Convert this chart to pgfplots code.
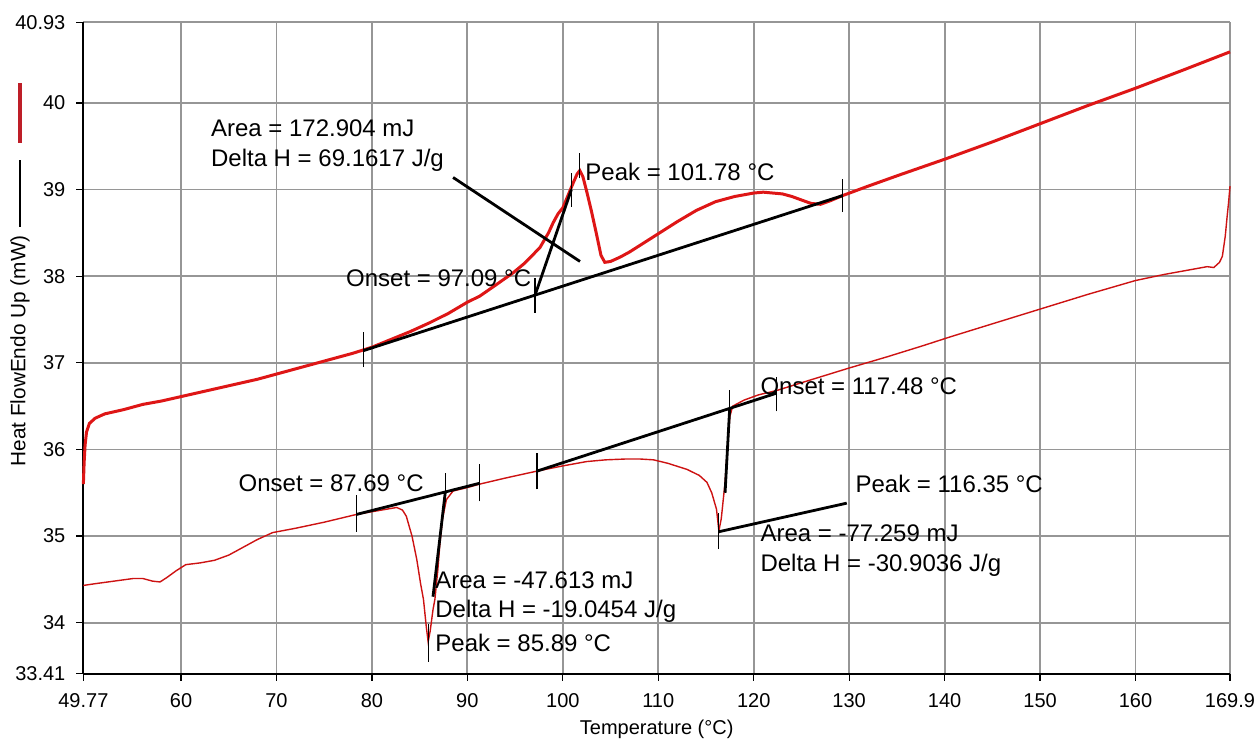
\documentclass[border=0pt]{standalone}
\usepackage{fontspec}
\setmainfont{Liberation Sans}
\usepackage{pgfplots}
\pgfplotsset{compat=1.18}
\definecolor{hred}{RGB}{222,22,22}
\definecolor{tred}{RGB}{205,18,18}
\definecolor{lred}{RGB}{190,30,40}
\definecolor{gridgray}{RGB}{150,150,150}
\begin{document}
\begin{tikzpicture}
\useasboundingbox (-41.7pt,-33pt) rectangle (585.5pt,337pt);
\begin{axis}[
  scale only axis, width=573.5pt, height=325.8pt,
  at={(0pt,0pt)}, anchor=south west,
  xmin=49.77, xmax=169.9, ymin=33.41, ymax=40.93,
  axis x line*=bottom, axis y line*=left,
  axis line style={black, line width=0.9pt},
  xtick={49.77,60,70,80,90,100,110,120,130,140,150,160,169.9},
  xticklabels={49.77,60,70,80,90,100,110,120,130,140,150,160,169.9},
  ytick={33.41,34,35,36,37,38,39,40,40.93},
  yticklabels={33.41,34,35,36,37,38,39,40,40.93},
  tick align=outside, major tick length=3.5pt,
  tick style={black, line width=0.6pt},
  grid=major, major grid style={gridgray, line width=0.9pt},
  ticklabel style={font=\fontsize{10}{12}\selectfont},
  xticklabel style={yshift=-3pt},
  yticklabel style={xshift=-2pt},
  clip=false,
]
% upper (heavy) curve
\addplot[hred, line width=1.5pt] coordinates {
(49.77,35.60) (49.85,35.85) (49.95,36.05) (50.1,36.20) (50.4,36.30) (51,36.36) (52,36.41)
(54,36.46) (56,36.52) (58,36.56) (60,36.61) (62,36.66) (64,36.71) (66,36.76) (68,36.81)
(70,36.87) (72,36.93) (74,36.99) (76,37.05) (78,37.11) (80,37.18) (82,37.27) (84,37.36)
(86,37.46) (88,37.57) (90,37.70) (91.3,37.77) (93,37.90) (94.8,38.04) (96,38.15) (97.6,38.33)
(98.5,38.50) (99,38.62) (99.5,38.72) (100,38.79) (100.5,38.92) (101.1,39.08) (101.5,39.18)
(101.78,39.22) (102.1,39.15) (102.5,38.98) (103,38.75) (103.5,38.50) (104,38.24) (104.4,38.16)
(105,38.17) (106,38.22) (107,38.28) (108,38.35) (110,38.49) (112,38.63) (114,38.76) (116,38.86)
(118,38.92) (120,38.96) (121,38.97) (122,38.96) (123,38.95) (124,38.92) (125,38.88) (126,38.84)
(127,38.83) (128,38.87) (129.3,38.93) (132,39.04) (135.3,39.17) (140,39.35) (145,39.55)
(150,39.76) (155,39.97) (160,40.17) (165,40.38) (169.9,40.59)
};
% lower (thin) curve
\addplot[tred, line width=0.7pt] coordinates {
(49.77,34.43) (51,34.45) (53,34.48) (55,34.51) (56,34.51) (57,34.48) (57.8,34.47) (58.5,34.52)
(59.5,34.60) (60.5,34.67) (62,34.69) (63.5,34.72) (65,34.78) (66.5,34.87) (68,34.96) (69.6,35.04)
(72,35.09) (75,35.16) (78.4,35.25) (81,35.30) (82.6,35.33) (83.2,35.30) (83.6,35.23) (84.2,35.00)
(84.7,34.73) (85.1,34.45) (85.4,34.27) (85.7,33.95) (85.89,33.78) (86.1,33.90) (86.4,34.15)
(86.6,34.27) (86.9,34.60) (87.1,34.88) (87.4,35.20) (87.8,35.42) (88.5,35.52) (90,35.56)
(91.3,35.60) (94,35.67) (97.3,35.75) (100,35.81) (102.5,35.86) (104.5,35.88) (106.7,35.89)
(108,35.89) (109.5,35.88) (111,35.84) (113,35.77) (114.3,35.70) (115.1,35.62) (115.6,35.50)
(116.1,35.31) (116.35,35.06) (116.6,35.20) (117.0,35.62) (117.3,36.10) (117.5,36.38) (117.8,36.50)
(119,36.57) (120.5,36.63) (122.4,36.68) (125,36.77) (130,36.94) (134,37.07) (137.8,37.20)
(140.6,37.30) (145,37.45) (150,37.62) (155,37.79) (160,37.95) (163,38.02) (166,38.08)
(167.5,38.11) (168.2,38.10) (168.8,38.16) (169.1,38.23) (169.4,38.46) (169.6,38.69)
(169.75,38.85) (169.9,39.04)
};
% ---- upper peak annotations
\addplot[black, line width=1.4pt] coordinates {(79.1,37.14) (129.3,38.93)};
\addplot[black, line width=1.4pt] coordinates {(97.09,37.78) (100.9,39.00)};
\addplot[black, line width=1.4pt] coordinates {(88.5,39.14) (101.8,38.17)};
\addplot[black, line width=0.6pt] coordinates {(79.1,36.95) (79.1,37.35)};
\addplot[black, line width=0.6pt] coordinates {(129.3,38.74) (129.3,39.12)};
\addplot[black, line width=0.6pt] coordinates {(97.09,37.58) (97.09,37.98)};
\addplot[black, line width=0.6pt] coordinates {(100.9,38.80) (100.9,39.19)};
\addplot[black, line width=0.6pt] coordinates {(101.78,39.13) (101.78,39.42)};
% ---- lower first peak annotations
\addplot[black, line width=1.4pt] coordinates {(78.4,35.25) (91.3,35.61)};
\addplot[black, line width=1.4pt] coordinates {(87.69,35.51) (86.4,34.30)};
\addplot[black, line width=0.6pt] coordinates {(78.4,35.05) (78.4,35.47)};
\addplot[black, line width=0.6pt] coordinates {(91.3,35.40) (91.3,35.83)};
\addplot[black, line width=0.6pt] coordinates {(87.69,35.39) (87.69,35.73)};
\addplot[black, line width=0.6pt] coordinates {(85.89,33.55) (85.89,33.98)};
% ---- lower second peak annotations
\addplot[black, line width=1.4pt] coordinates {(97.3,35.75) (122.4,36.65)};
\addplot[black, line width=1.4pt] coordinates {(117.48,36.47) (117.0,35.50)};
\addplot[black, line width=1.4pt] coordinates {(116.35,35.05) (129.75,35.38)};
\addplot[black, line width=0.6pt] coordinates {(97.3,35.54) (97.3,35.96)};
\addplot[black, line width=0.6pt] coordinates {(122.4,36.44) (122.4,36.84)};
\addplot[black, line width=0.6pt] coordinates {(117.48,36.25) (117.48,36.69)};
\addplot[black, line width=0.6pt] coordinates {(116.35,34.85) (116.35,35.27)};
% ---- texts
\begin{scope}[every node/.style={anchor=base west, inner sep=0pt, font=\fontsize{12}{14}\selectfont}]
\node at (axis cs:63.11,39.61) {Area = 172.904 mJ};
\node at (axis cs:63.11,39.27) {Delta H = 69.1617 J/g};
\node at (axis cs:102.33,39.11) {Peak = 101.78 °C};
\node at (axis cs:77.26,37.88) {Onset = 97.09 °C};
\node at (axis cs:66.0,35.52) {Onset = 87.69 °C};
\node at (axis cs:86.61,34.40) {Area = -47.613 mJ};
\node at (axis cs:86.61,34.06) {Delta H = -19.0454 J/g};
\node at (axis cs:86.61,33.67) {Peak = 85.89 °C};
\node at (axis cs:120.67,36.63) {Onset = 117.48 °C};
\node at (axis cs:130.63,35.50) {Peak = 116.35 °C};
\node at (axis cs:120.67,34.94) {Area = -77.259 mJ};
\node at (axis cs:120.67,34.59) {Delta H = -30.9036 J/g};
\end{scope}
\end{axis}
% axis title and y label with series keys
\node[anchor=base, inner sep=0pt, font=\fontsize{10}{12}\selectfont] at (286.75pt,-30.5pt) {Temperature (°C)};
\node[rotate=90, anchor=west, inner sep=0pt, font=\fontsize{10.4}{12}\selectfont] at (-31.7pt,103.5pt) {Heat FlowEndo Up (mW)};
\draw[black, line width=0.6pt] (-31.7pt,223.5pt) -- (-31.7pt,257pt);
\draw[lred, line width=1.6pt] (-31.7pt,265.5pt) -- (-31.7pt,295.5pt);
\end{tikzpicture}
\end{document}
